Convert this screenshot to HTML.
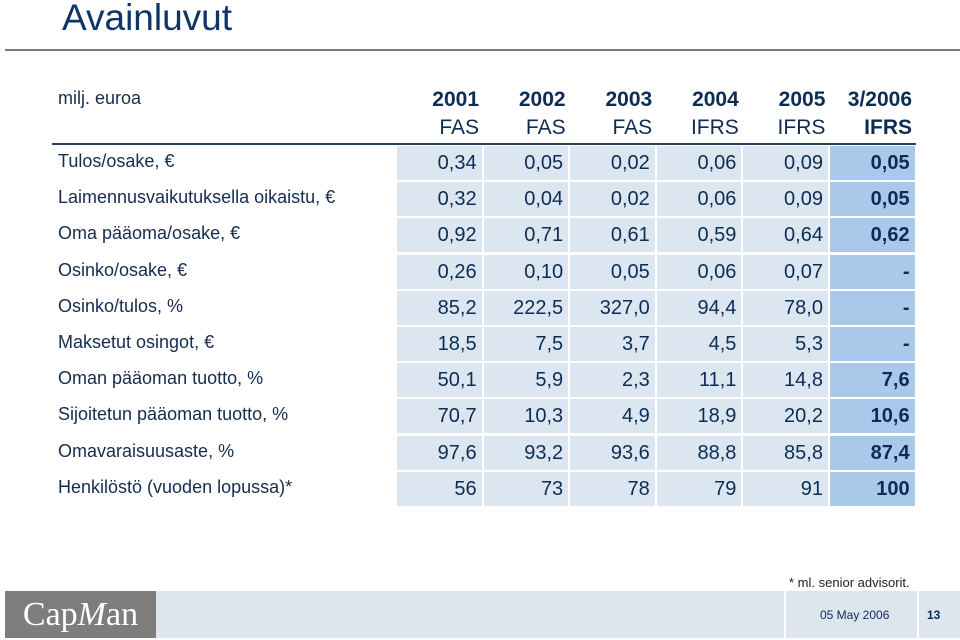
<!DOCTYPE html>
<html><head><meta charset="utf-8"><style>
body{margin:0;width:960px;height:640px;background:#fff;position:relative;overflow:hidden;font-family:"Liberation Sans",sans-serif;color:#0d2c54}
.a{position:absolute}
.cell{position:absolute;background:#dce6f0;text-align:right;box-sizing:border-box;padding-right:5px;font-size:20px;color:#0d2c54}
.last{background:#aac8ea;font-weight:bold}
.lbl{position:absolute;left:58px;font-size:18px;color:#142c4e}
.hd{position:absolute;text-align:right;font-size:21px;line-height:28px;width:84px}
</style></head><body>
<div class="a" style="left:62px;top:-3px;font-size:37px;color:#0d3566">Avainluvut</div>
<div class="a" style="left:5px;top:49px;width:955px;height:2px;background:#6d7f90"></div>
<div class="a" style="left:58px;top:88px;font-size:18px;color:#142c4e">milj. euroa</div>
<div class="a" style="left:52px;top:143px;width:864px;height:2px;background:#243f60"></div>
<div id="t"></div>
<div class="a" style="left:789px;top:575px;font-size:13px;color:#222">* ml. senior advisorit.</div>
<div class="a" style="left:5px;top:591px;width:955px;height:47px;background:#dde6ef"></div>
<div class="a" style="left:5px;top:591px;width:151px;height:47px;background:#7d7d7d;color:#fff;font-family:'Liberation Serif',serif;font-size:34px;line-height:47px;text-align:center">Cap<i>M</i>an</div>
<div class="a" style="left:784px;top:591px;width:2px;height:47px;background:#fff"></div>
<div class="a" style="left:917px;top:591px;width:2px;height:47px;background:#fff"></div>
<div class="a" style="left:820px;top:608px;font-size:12px;color:#0d2c54">05 May 2006</div>
<div class="a" style="left:927px;top:608px;font-size:12px;font-weight:bold;color:#0d2c54">13</div>
<script>
const years=["2001","2002","2003","2004","2005","3/2006"];
const standards=["FAS","FAS","FAS","IFRS","IFRS","IFRS"];
const labels=["Tulos/osake, €","Laimennusvaikutuksella oikaistu, €","Oma pääoma/osake, €","Osinko/osake, €","Osinko/tulos, %","Maksetut osingot, €","Oman pääoman tuotto, %","Sijoitetun pääoman tuotto, %","Omavaraisuusaste, %","Henkilöstö (vuoden lopussa)*"];
const values=[
["0,34","0,05","0,02","0,06","0,09","0,05"],
["0,32","0,04","0,02","0,06","0,09","0,05"],
["0,92","0,71","0,61","0,59","0,64","0,62"],
["0,26","0,10","0,05","0,06","0,07","-"],
["85,2","222,5","327,0","94,4","78,0","-"],
["18,5","7,5","3,7","4,5","5,3","-"],
["50,1","5,9","2,3","11,1","14,8","7,6"],
["70,7","10,3","4,9","18,9","20,2","10,6"],
["97,6","93,2","93,6","88,8","85,8","87,4"],
["56","73","78","79","91","100"]];
const t=document.getElementById('t');
const colX=c=>397+c*86.6, rowY=r=>146+r*36.2;
years.forEach((y,c)=>{
 const h=document.createElement('div');h.className='hd';
 
 
 h.style.left=(colX(c)-2)+'px';h.style.top='86px';
 h.innerHTML='<b>'+y+'</b><br>'+(c==5?'<b>'+standards[c]+'</b>':standards[c]);
 t.appendChild(h);
});
labels.forEach((l,r)=>{
 const d=document.createElement('div');d.className='lbl';
 
 
 d.style.top=(rowY(r)+5)+'px';d.textContent=l;t.appendChild(d);
 values[r].forEach((v,c)=>{
  const e=document.createElement('div');e.className='cell'+(c==5?' last':'');
  
  
  e.style.left=colX(c)+'px';e.style.top=rowY(r)+'px';
  e.style.width='84.6px';e.style.height='34px';e.style.lineHeight='34px';
  e.textContent=v;t.appendChild(e);
 });
});
</script>
</body></html>
